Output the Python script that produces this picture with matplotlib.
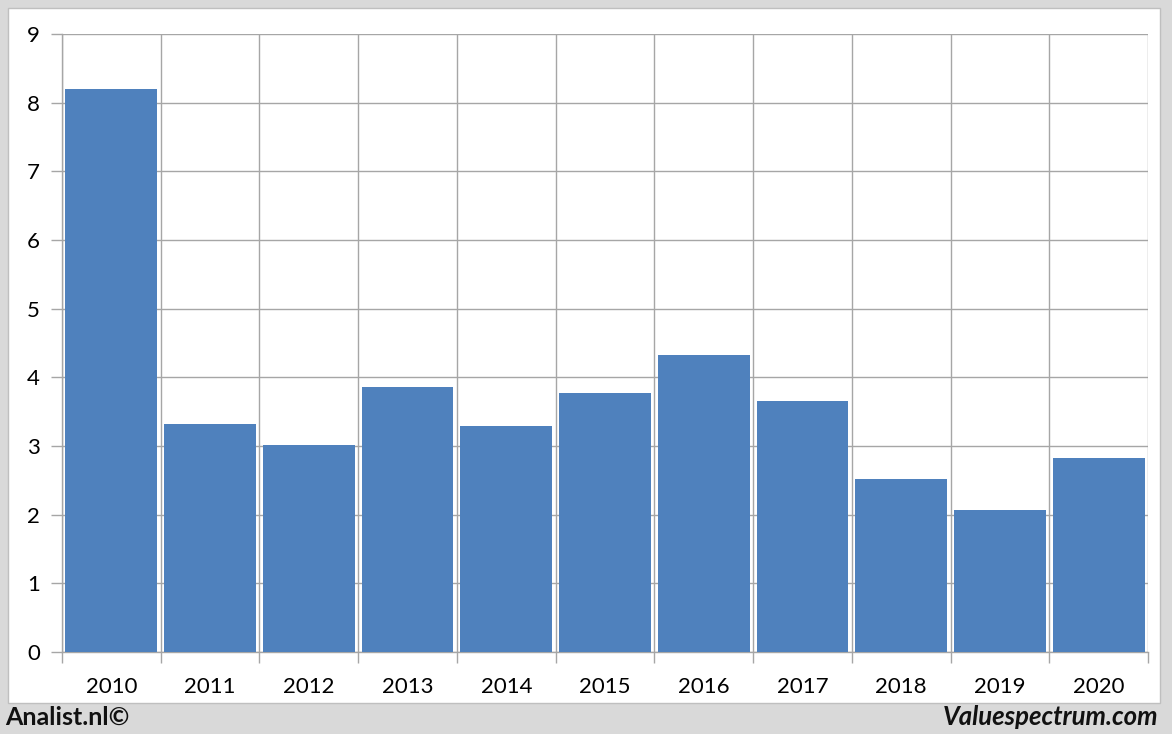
import matplotlib.pyplot as plt
import numpy as np
from matplotlib.patches import Rectangle

# ---- data ----
years = ["2010", "2011", "2012", "2013", "2014", "2015",
         "2016", "2017", "2018", "2019", "2020"]
values = [8.2, 3.32, 3.01, 3.86, 3.29, 3.77, 4.32, 3.65, 2.52, 2.07, 2.82]
y_ticks = [0, 1, 2, 3, 4, 5, 6, 7, 8, 9]

W, H = 1172, 734
plt.rcParams['font.family'] = ['Lato', 'DejaVu Sans']

fig = plt.figure(figsize=(W / 100, H / 100), dpi=100)
fig.patch.set_facecolor("#d9d9d9")

# white panel behind the chart
panel = Rectangle((8 / W, 1 - 703 / H), (1160 - 8) / W, (703 - 8) / H,
                  transform=fig.transFigure, facecolor="white",
                  edgecolor="#bfbfbf", linewidth=1, zorder=-10)
fig.patches.append(panel)

# plot area in pixels: x 62..1148, y 34..652
ax = fig.add_axes([62 / W, 1 - 652 / H, (1148 - 62) / W, (652 - 34) / H])
ax.set_zorder(1)
ax.set_facecolor("white")

x = np.arange(len(years))
ax.bar(x, values, width=0.93, color="#4f81bd", zorder=3)

ax.set_xlim(-0.5, len(years) - 0.5)
ax.set_ylim(0, 9)
ax.set_yticks(y_ticks)
ax.set_xticks(x)
ax.set_xticklabels(years)
ax.set_xticks(np.arange(-0.5, len(years)), minor=True)

# grid
ax.grid(axis="y", which="major", color="#a6a6a6", linewidth=1, zorder=0)
ax.grid(axis="x", which="minor", color="#a6a6a6", linewidth=1, zorder=0)
ax.set_axisbelow(True)

ax.tick_params(axis="x", which="major", length=0, pad=18, labelsize=16)
ax.tick_params(axis="x", which="minor", length=8, color="#a6a6a6", width=1)
ax.tick_params(axis="y", length=8, color="#a6a6a6", width=1, pad=8,
               labelsize=16)

for s in ["top", "right"]:
    ax.spines[s].set_visible(False)
for s in ["left", "bottom"]:
    ax.spines[s].set_color("#a6a6a6")
    ax.spines[s].set_linewidth(1)

# footer texts
fig.text(5 / W, 1 - 717 / H, "Analist.nl©", fontsize=18, fontweight="bold",
         ha="left", va="center", color="#111111")
fig.text(1158 / W, 1 - 717 / H, "Valuespectrum.com", fontsize=18.5,
         fontweight="bold", fontstyle="italic", ha="right", va="center",
         color="#111111")

fig.savefig("out.png", dpi=100, facecolor=fig.get_facecolor())
